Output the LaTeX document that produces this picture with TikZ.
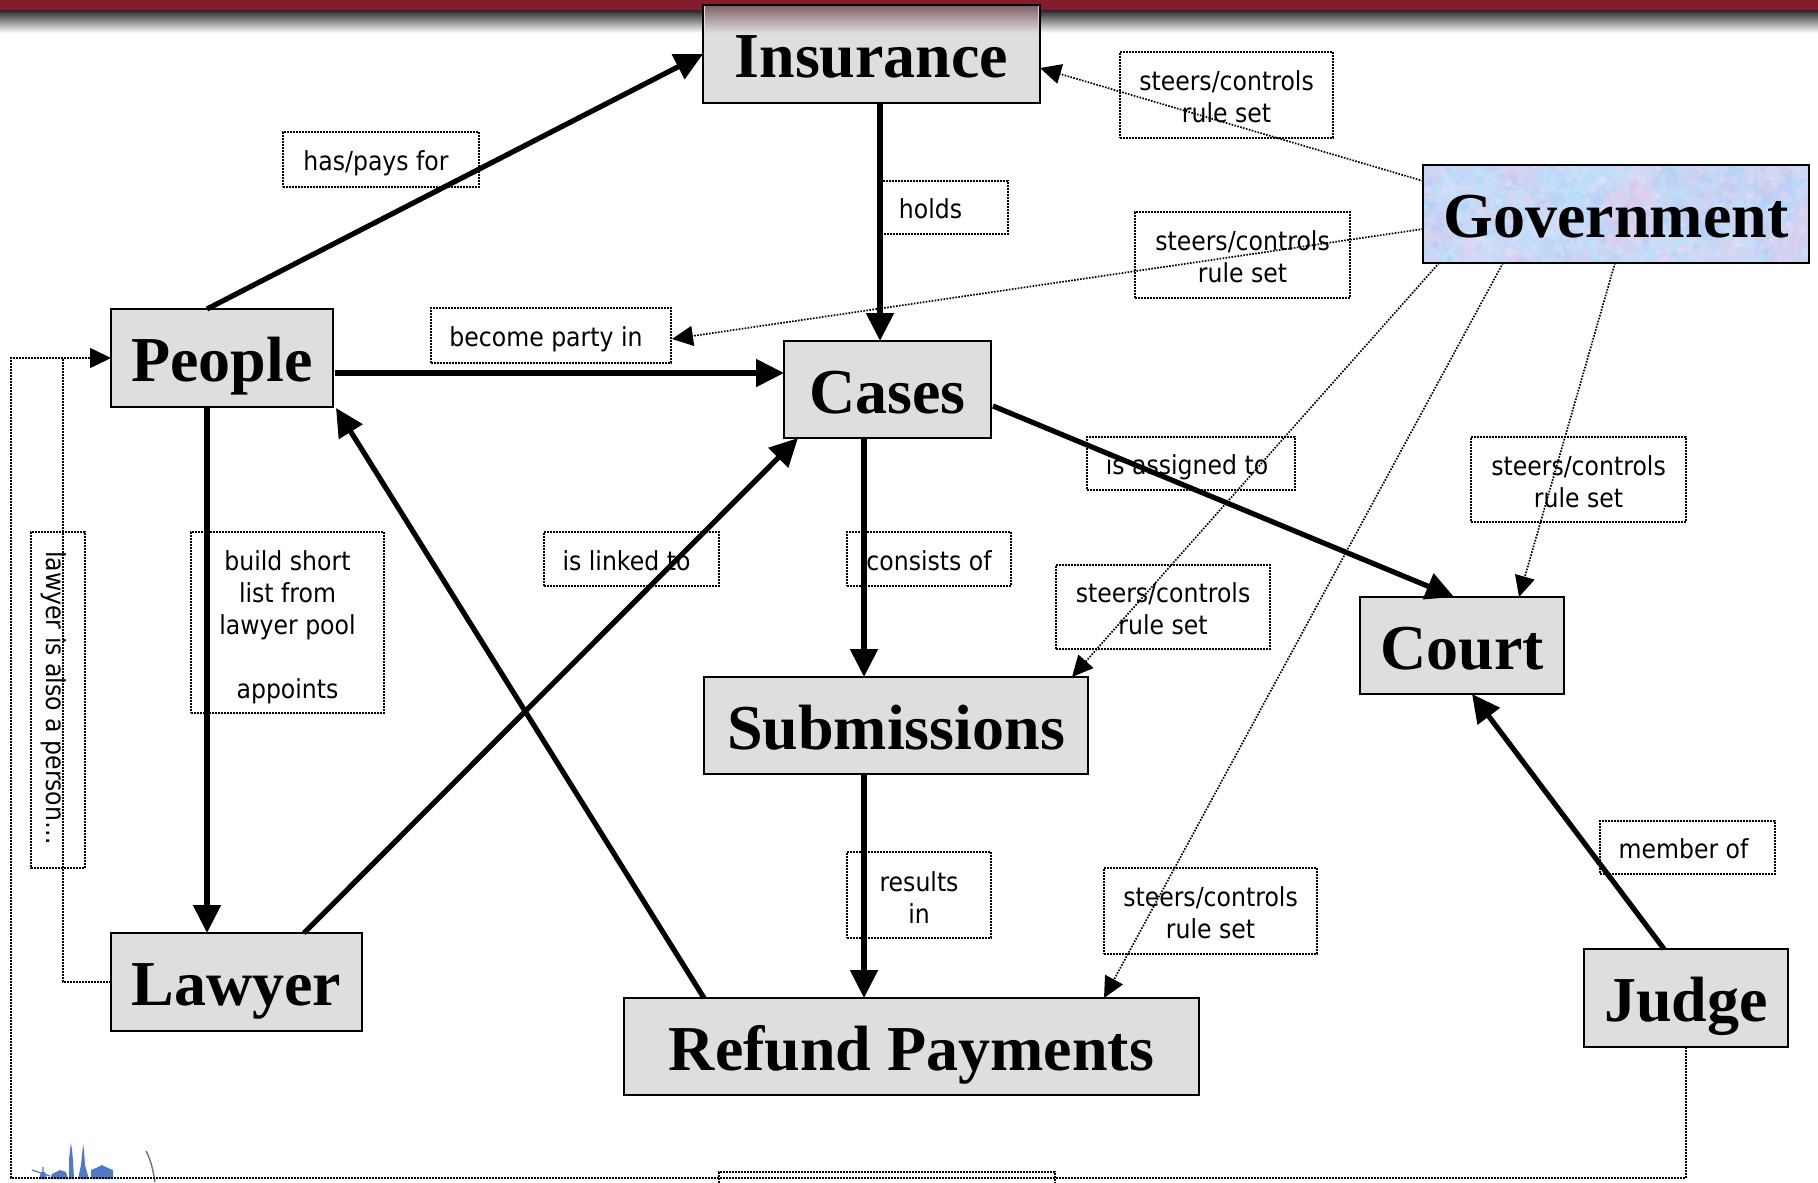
\documentclass[tikz,border=0pt]{standalone}
\usepackage{fontspec}
\usetikzlibrary{arrows.meta,calc}
\newfontfamily\ttlfont{Liberation Serif}
\newfontfamily\labfont[FakeStretch=0.9]{DejaVu Sans}
\definecolor{boxgray}{HTML}{DEDEDE}
\definecolor{barred}{HTML}{851C2E}
\definecolor{logoblue}{HTML}{4F78C8}
\definecolor{govbase}{HTML}{C8D8F6}
\definecolor{bandtop}{HTML}{86666F}
\definecolor{bandmid}{HTML}{A8A8A8}
\newcommand{\lift}{\rule{0pt}{12pt}}
\tikzset{
  concept/.style={draw=black,line width=1pt,fill=boxgray,inner sep=0pt,outer sep=0pt,anchor=north west,
    font=\ttlfont\bfseries\fontsize{32}{36}\selectfont,text height=30.5pt,text depth=7pt},
  lab/.style={draw=black,line width=.85pt,dash pattern=on .8pt off .7pt,inner sep=0pt,outer sep=0pt,
    anchor=north west,font=\labfont\fontsize{13.1}{16}\selectfont,text=black},
  labone/.style={lab,text height=13.1pt,text depth=2pt},
  rel/.style={line width=2.6pt,-{Triangle[length=14pt,width=13.5pt]},shorten <=0pt},
  gov/.style={line width=.85pt,dash pattern=on .8pt off .7pt,-{Triangle[length=10.5pt,width=10pt]}},
  loop/.style={line width=.85pt,dash pattern=on .8pt off .7pt},
}
\begin{document}
\begin{tikzpicture}[x=0.5pt,y=-0.5pt]
\clip (0,0) rectangle (1818,1182);
\fill[white] (0,0) rectangle (1818,1182);
% top band
\shade[top color=black!85,middle color=black!62,bottom color=white] (0,10) rectangle (1818,33);
\fill[barred] (0,0) rectangle (1818,10);
% logo
\begin{scope}
\fill[logoblue] (69,1179) -- (69,1160) -- (70,1150) -- (71,1143) -- (72,1150) -- (73,1160) -- (74,1179) -- cycle;
\fill[logoblue] (78,1179) -- (81,1165) -- (82.5,1150) -- (83,1144) -- (84,1150) -- (85,1165) -- (89,1179) -- cycle;
\fill[logoblue] (91,1179) -- (91,1170) -- (96,1168) -- (102,1165) -- (108,1168) -- (113,1170) -- (113,1179) -- cycle;
\fill[logoblue] (39,1179) -- (41,1172) -- (45,1172) -- (47,1179) -- cycle;
\draw[logoblue,line width=.6pt] (32,1170) -- (50,1176) (43,1167) -- (43,1176);
\fill[logoblue] (50,1179) -- (52,1174) -- (60,1170) -- (66,1172) -- (68,1179) -- cycle;
\draw[black!55,line width=.7pt] (146,1151) .. controls (151,1160) and (153,1170) .. (155,1182);
\end{scope}
% government texture
\begin{scope}
\clip (1423,165) rectangle (1809,263);
\fill[govbase] (1423,165) rectangle (1809,263);
\pgfmathsetseed{42}
\foreach \i in {1,...,200}{
  \pgfmathsetmacro{\px}{1423+386*rnd}
  \pgfmathsetmacro{\py}{165+98*rnd}
  \pgfmathsetmacro{\pr}{7+11*rnd}
  \pgfmathtruncatemacro{\pc}{int(4*rnd)}
  \ifcase\pc\relax
    \def\thecol{EFC4E6}\or\def\thecol{B0ECFC}\or\def\thecol{A8C8F6}\else\def\thecol{E6E2FA}\fi
  \definecolor{mott}{HTML}{\thecol}
  \fill[mott,opacity=.2] (\px,\py) circle[radius=\pr];
}
\foreach \i in {1,...,700}{
  \pgfmathsetmacro{\px}{1423+386*rnd}
  \pgfmathsetmacro{\py}{165+98*rnd}
  \pgfmathsetmacro{\pr}{1.5+3.5*rnd}
  \pgfmathtruncatemacro{\pc}{int(4*rnd)}
  \ifcase\pc\relax
    \def\thecol{EFD0EC}\or\def\thecol{BCEFFC}\or\def\thecol{A8C8F6}\else\def\thecol{EAE6FC}\fi
  \definecolor{mott}{HTML}{\thecol}
  \fill[mott,opacity=.28] (\px,\py) circle[radius=\pr];
}
\end{scope}
% concept boxes
\node[concept,minimum width=168.5pt,minimum height=49pt] (insurance) at (703,5) {Insurance};
\node[concept,minimum width=111pt,minimum height=49pt] (people) at (111,309) {People};
\node[concept,minimum width=103.5pt,minimum height=48.5pt] (cases) at (784,341) {Cases};
\node[concept,fill=none,line width=1.3pt,minimum width=193pt,minimum height=49pt] (government) at (1423,165) {Government};
\node[concept,minimum width=102pt,minimum height=48.5pt] (court) at (1360,597) {Court};
\node[concept,minimum width=192pt,minimum height=48.5pt] (submissions) at (704,677) {Submissions};
\node[concept,minimum width=125.5pt,minimum height=49pt] (lawyer) at (111,933) {Lawyer};
\node[concept,minimum width=287.5pt,minimum height=48.5pt] (refund) at (624,998) {Refund Payments};
\node[concept,minimum width=102pt,minimum height=49pt] (judge) at (1584,949) {Judge};
% translucent band seen through the Insurance box
\shade[top color=bandtop,middle color=bandmid,bottom color=boxgray] ($(insurance.north west)+(2,2)$) rectangle ($(insurance.north east)+(-2,28)$);
% label boxes
\node[labone,minimum width=98pt,minimum height=27.5pt] (haspays) at (283,132) {has/pays for\hspace*{5pt}};
\node[labone,minimum width=63.5pt,minimum height=26.5pt] (holds) at (881,181) {holds\hspace*{14pt}};
\node[lab,align=center,minimum width=106.5pt,minimum height=43pt] (steersA) at (1120,52) {\lift steers/controls\\rule set};
\node[lab,align=center,minimum width=107.5pt,minimum height=43pt] (steersB) at (1135,212) {\lift steers/controls\\rule set};
\node[labone,minimum width=120pt,minimum height=27.5pt] (party) at (431,308) {become party in\hspace*{5pt}};
\node[labone,minimum width=104pt,minimum height=26.5pt] (assigned) at (1087,437) {is assigned to\hspace*{4pt}};
\node[lab,align=center,minimum width=107.5pt,minimum height=42.5pt] (steersC) at (1471,437) {\lift steers/controls\\rule set};
\node[labone,minimum width=87.5pt,minimum height=27pt] (linked) at (544,532) {is linked to\hspace*{5pt}};
\node[labone,minimum width=82pt,minimum height=27pt] (consists) at (847,532) {consists of};
\node[lab,align=center,minimum width=96.5pt,minimum height=90.5pt] (shortlist) at (191,532) {\rule{0pt}{14.8pt}build short\\list from\\lawyer pool\\[16pt]appoints};
\node[labone,rotate=270,anchor=center,minimum width=168pt,minimum height=27pt] (alsoperson) at (58,700) {lawyer is also a person…\hspace*{2pt}};
\node[lab,align=center,minimum width=107pt,minimum height=42pt] (steersD) at (1056,565) {\lift steers/controls\\rule set};
\node[lab,align=center,minimum width=72pt,minimum height=43pt] (results) at (847,852) {\lift results\\in};
\node[lab,align=center,minimum width=106.5pt,minimum height=43pt] (steersE) at (1104,868) {\lift steers/controls\\rule set};
\node[labone,minimum width=87.5pt,minimum height=26.5pt] (member) at (1600,821) {member of\hspace*{4pt}};
\node[lab,minimum width=168pt,minimum height=30pt] (cutoff) at (719,1172) {};
% thick relations
\draw[rel] ($(people.north west)+(96,0)$) -- ($(insurance.north west)+(0,49)$);
\draw[rel] ($(insurance.south west)+(177,0)$) -- ($(cases.north west)+(96,0)$);
\draw[rel] ($(people.north east)+(2,64)$) -- ($(cases.north west)+(0,32)$);
\draw[rel] ($(people.south west)+(96,0)$) -- ($(lawyer.north west)+(96,0)$);
\draw[rel] ($(cases.south west)+(80,0)$) -- ($(submissions.north west)+(160,0)$);
\draw[rel] ($(submissions.south west)+(160,0)$) -- ($(refund.north west)+(240,0)$);
\draw[rel] ($(cases.north east)+(2,65)$) -- ($(court.north west)+(94,0)$);
\draw[rel] ($(lawyer.north west)+(193,0)$) -- ($(cases.south west)+(14,0)$);
\draw[rel] ($(refund.north west)+(80,0)$) -- ($(people.south east)+(3,1)$);
\draw[rel] ($(judge.north west)+(80,0)$) -- ($(court.south west)+(112,0)$);
% government relations
\draw[gov] ($(government.north west)+(0,16)$) -- ($(insurance.north east)+(0,63)$);
\draw[gov] ($(government.north west)+(0,64)$) -- ($(party.north east)+(1,31)$);
\draw[gov] ($(government.south west)+(16,0)$) -- ($(submissions.north east)+(-16,0)$);
\draw[gov] ($(government.south west)+(80,0)$) -- ($(refund.north east)+(-95,0)$);
\draw[gov] ($(government.south west)+(192,0)$) -- ($(court.north west)+(159,0)$);
% loops to People
\draw[gov] ($(judge.south west)+(102,0)$) -- (1686,1178) -- (11,1178) -- (11,358) -- (people.west);
\draw[loop] ($(lawyer.south west)+(0,-49)$) -- (63,982) -- (63,358) -- ($(people.west)+(-48,0)$);
\end{tikzpicture}
\end{document}
